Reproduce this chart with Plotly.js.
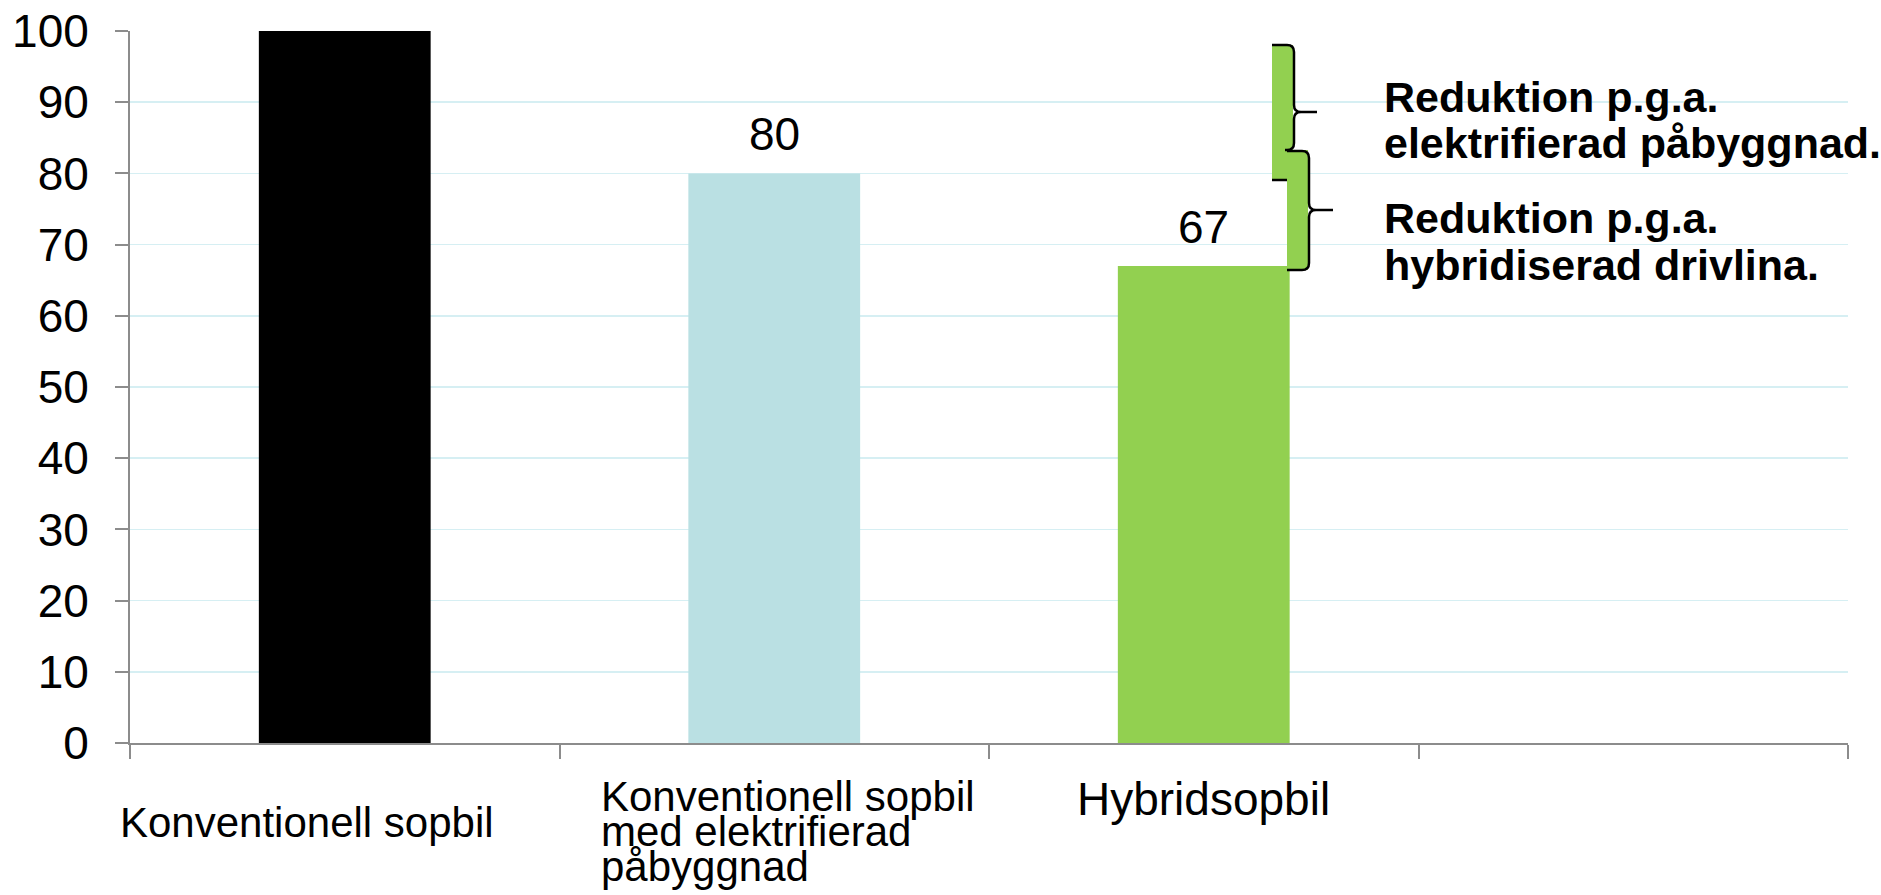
<!DOCTYPE html>
<html>
<head>
<meta charset="utf-8">
<script src="https://cdn.plot.ly/plotly-3.0.1.min.js"></script>
<style>
  html, body { margin: 0; padding: 0; background: #ffffff; }
  #chart { width: 1881px; height: 895px; }
</style>
</head>
<body>
<div id="chart"></div>
<script>
// ---- data ----
const categoryLines = [
  ["Konventionell sopbil"],
  ["Konventionell sopbil", "med elektrifierad", "påbyggnad"],
  ["Hybridsopbil"]
];
const categories = categoryLines.map(l => l.join(" ")).concat([" "]);
const values = [100, 80, 67, null];
const barColors = ["#000000", "#BAE0E3", "#92D050", "#ffffff"];
const showValueLabel = [false, true, true, false];
const yTickValues = [0, 10, 20, 30, 40, 50, 60, 70, 80, 90, 100];
const reductionNotes = [
  ["Reduktion p.g.a.", "elektrifierad påbyggnad."],
  ["Reduktion p.g.a.", "hybridiserad drivlina."]
];

// ---- layout helpers (pixel -> paper) ----
const W = 1881, H = 895;
const M = { l: 130, r: 33, t: 31, b: 152 };
const PW = W - M.l - M.r, PH = H - M.t - M.b;
const px = x => (x - M.l) / PW;
const py = y => (H - M.b - y) / PH;
const FONT = "Liberation Sans, Arial, Helvetica, sans-serif";

const trace = {
  type: "bar",
  x: categories,
  y: values,
  marker: { color: barColors, line: { width: 0 } },
  hoverinfo: "x+y"
};

const annotations = [];

// value labels above bars
values.forEach((v, i) => {
  if (!showValueLabel[i]) return;
  annotations.push({
    xref: "x", yref: "y", x: categories[i], y: v,
    text: String(v), showarrow: false,
    xanchor: "center", yanchor: "middle", yshift: 39,
    font: { family: FONT, size: 46, color: "#000000" }
  });
});

// category labels (custom placement as in the original)
const catLabelStyle = [
  { size: 42, xshift: -38, anchor: "center", baselines: [837] },
  { size: 42, xshift: -175, anchor: "left", baselines: [811, 846, 881] },
  { size: 46, xshift: 0, anchor: "center", baselines: [815] }
];
categoryLines.forEach((lines, i) => {
  const st = catLabelStyle[i];
  lines.forEach((line, j) => {
    annotations.push({
      xref: "x", yref: "paper", x: categories[i],
      y: py(st.baselines[j] - 0.3465 * st.size),
      xshift: st.xshift,
      text: line, showarrow: false,
      xanchor: st.anchor, yanchor: "middle",
      font: { family: FONT, size: st.size, color: "#000000" }
    });
  });
});

// reduction notes on the right
const noteBaselines = [[112, 158], [233, 280]];
reductionNotes.forEach((lines, i) => {
  lines.forEach((line, j) => {
    annotations.push({
      xref: "paper", yref: "paper",
      x: px(1382), y: py(noteBaselines[i][j] - 0.3465 * 43),
      text: "<b>" + line + "</b>", showarrow: false,
      xanchor: "left", yanchor: "middle",
      font: { family: FONT, size: 43, color: "#000000" }
    });
  });
});

// brace decorations (pixel-based path converted to paper)
function P(cmds) {
  let s = "";
  cmds.forEach(c => {
    if (typeof c === "string") s += c + " ";
    else s += px(c[0]).toFixed(5) + "," + py(c[1]).toFixed(5) + " ";
  });
  return s.trim();
}
const green = "#92D050";
const shapes = [
  { type: "rect", xref: "paper", yref: "paper", x0: px(1272), x1: px(1293), y0: py(180), y1: py(45),
    fillcolor: green, line: { width: 0 } },
  { type: "rect", xref: "paper", yref: "paper", x0: px(1287), x1: px(1308), y0: py(270), y1: py(150),
    fillcolor: green, line: { width: 0 } },
  { type: "path", xref: "paper", yref: "paper", line: { color: "#000000", width: 2.5 },
    path: P(["M", [1272, 45], "L", [1287, 45], "Q", [1294, 45], [1294, 52], "L", [1294, 105],
             "Q", [1294, 112], [1301, 112], "L", [1317, 112],
             "M", [1301, 112], "Q", [1294, 112], [1294, 119], "L", [1294, 143],
             "Q", [1294, 150], [1287, 150], "L", [1285, 150]]) },
  { type: "path", xref: "paper", yref: "paper", line: { color: "#000000", width: 2.5 },
    path: P(["M", [1287, 151], "L", [1302, 151], "Q", [1309, 151], [1309, 158], "L", [1309, 203],
             "Q", [1309, 210], [1316, 210], "L", [1333, 210],
             "M", [1316, 210], "Q", [1309, 210], [1309, 217], "L", [1309, 263],
             "Q", [1309, 270], [1302, 270], "L", [1287, 270]]) },
  { type: "line", xref: "paper", yref: "paper", x0: px(1272), x1: px(1287), y0: py(180), y1: py(180),
    line: { color: "#000000", width: 2.5 } }
];

const layout = {
  width: W, height: H,
  margin: M,
  paper_bgcolor: "#ffffff", plot_bgcolor: "#ffffff",
  showlegend: false,
  bargap: 0.6,
  font: { family: FONT, color: "#000000" },
  xaxis: {
    type: "category",
    categoryorder: "array", categoryarray: categories,
    range: [-0.5, 3.5],
    showline: true, linecolor: "#8c8c8c", linewidth: 2,
    ticks: "outside", tickson: "boundaries", ticklen: 14, tickcolor: "#8c8c8c", tickwidth: 2,
    showticklabels: false, showgrid: false, zeroline: false, fixedrange: true
  },
  yaxis: {
    range: [0, 100],
    tickmode: "array", tickvals: yTickValues, ticktext: yTickValues.map(String),
    showline: true, linecolor: "#8c8c8c", linewidth: 2,
    ticks: "outside", ticklen: 13, tickcolor: "#8c8c8c", tickwidth: 2,
    ticklabelstandoff: 17,
    tickfont: { family: FONT, size: 46, color: "#000000" },
    showgrid: true, gridcolor: "#d6eff3", gridwidth: 1.5,
    zeroline: false, fixedrange: true
  },
  annotations: annotations,
  shapes: shapes
};

Plotly.newPlot("chart", [trace], layout, { displayModeBar: false, staticPlot: true });
</script>
</body>
</html>
